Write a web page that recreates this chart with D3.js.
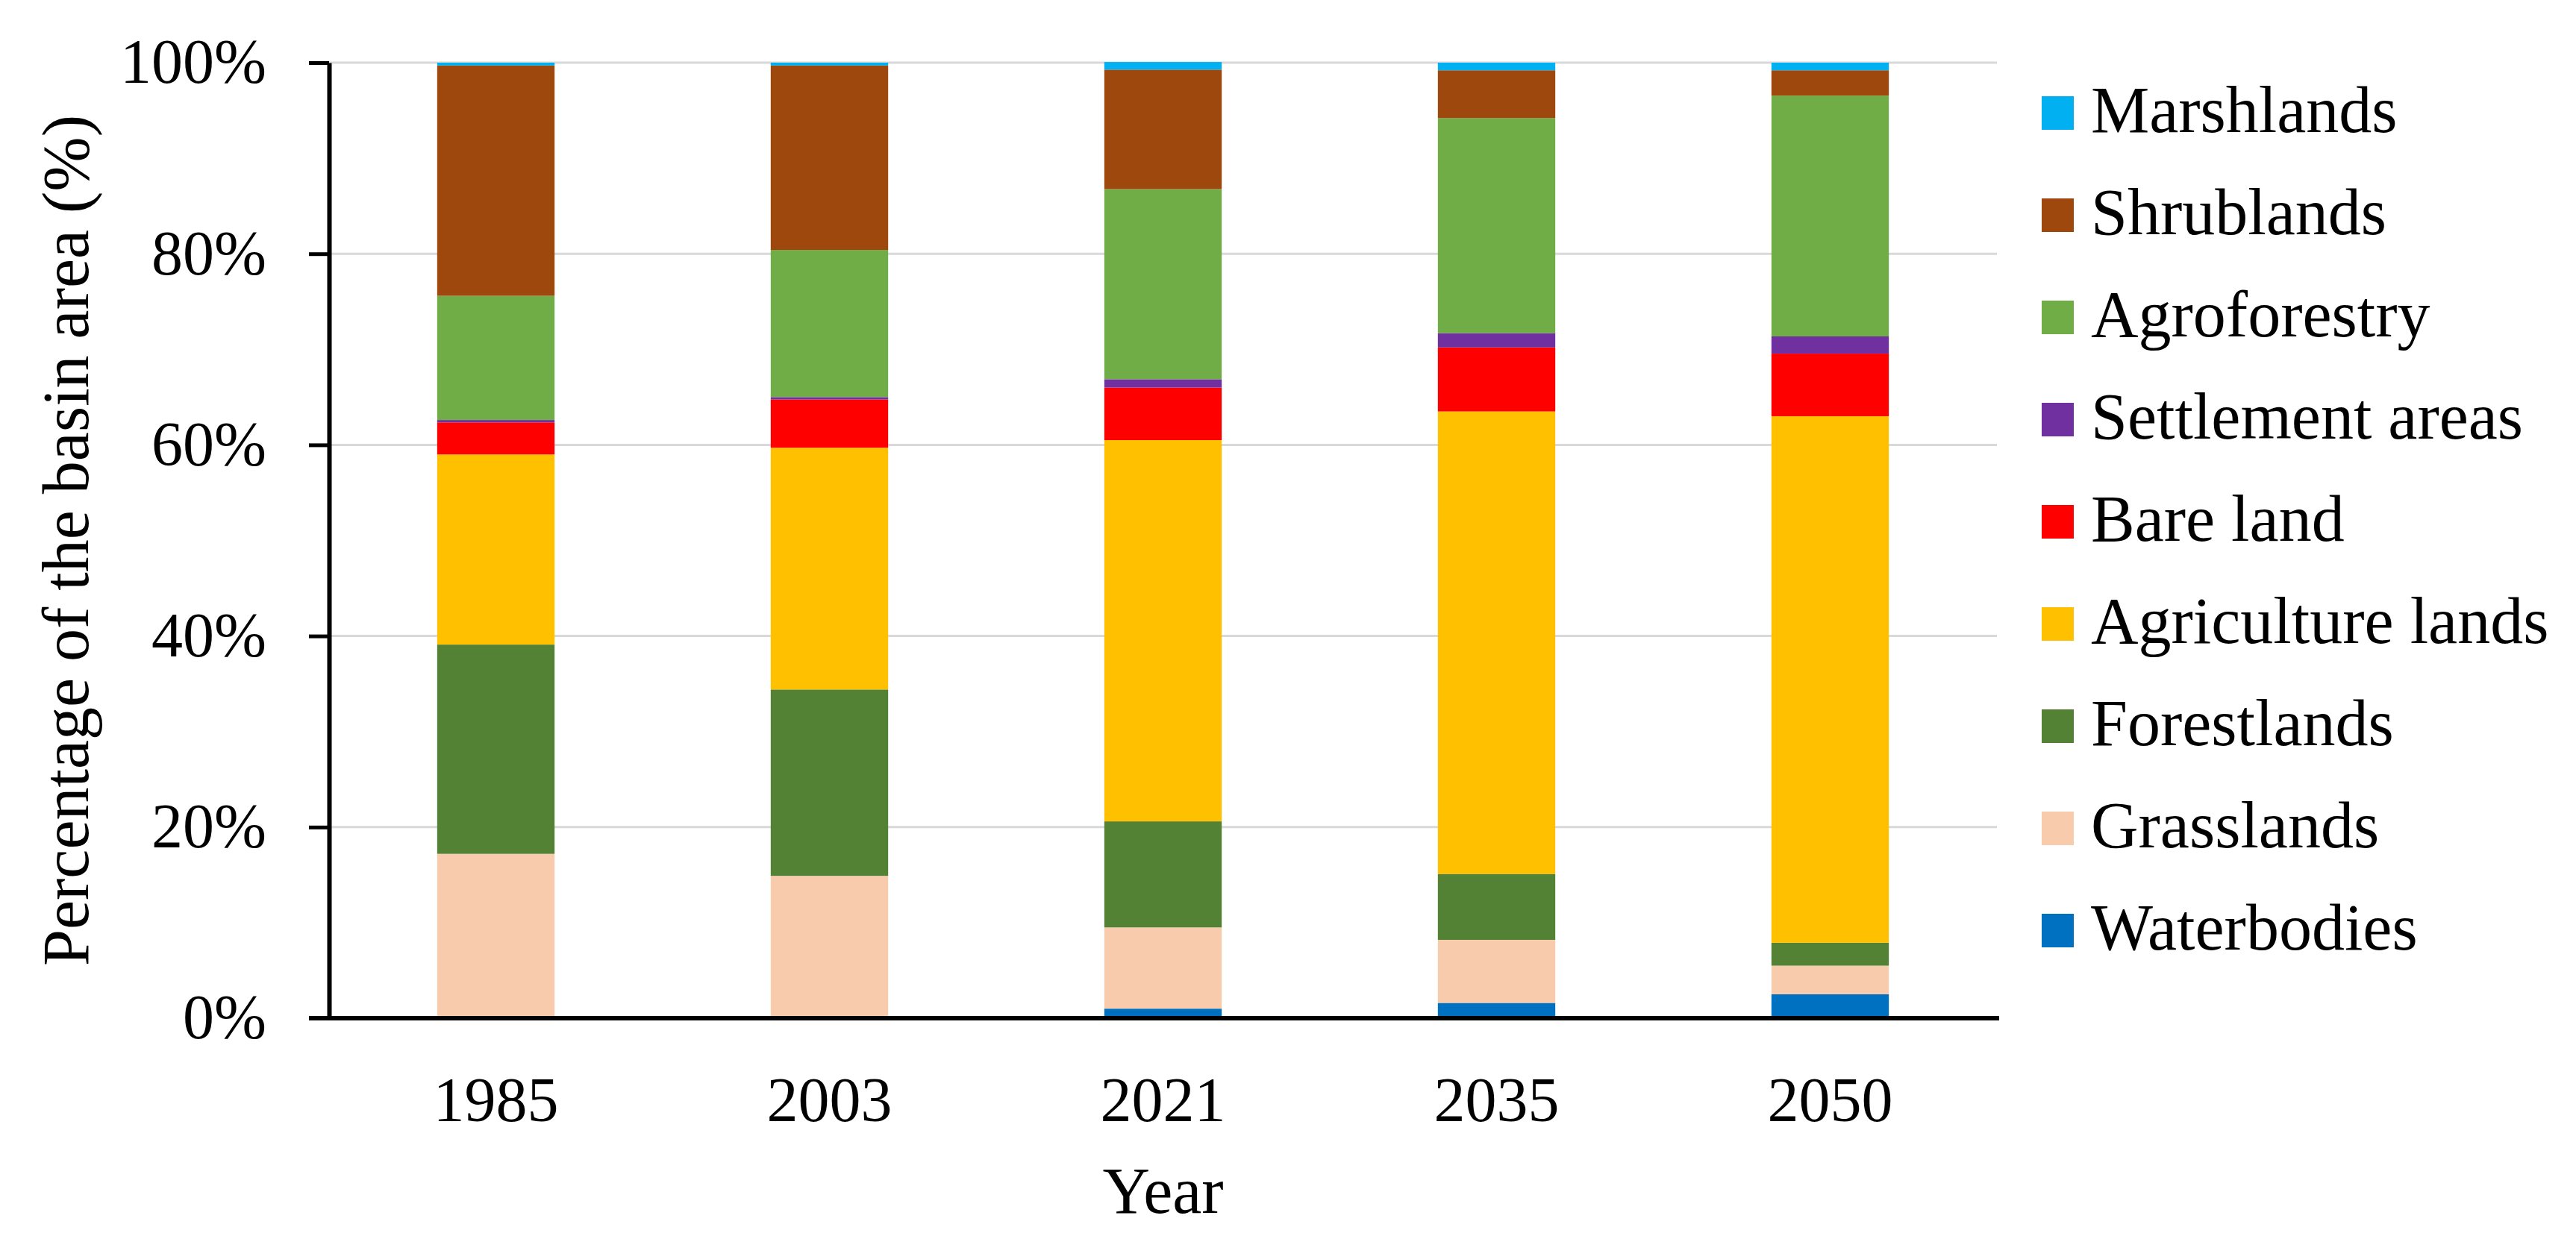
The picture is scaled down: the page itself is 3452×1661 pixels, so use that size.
<!DOCTYPE html>
<html>
<head>
<meta charset="utf-8">
<script src="https://cdn.jsdelivr.net/npm/d3@7"></script>
<style>
  body { margin: 0; background: #fff; }
</style>
</head>
<body>
<div id="chart-area"></div>
<script>
// data (percent of basin area)
const years = ["1985", "2003", "2021", "2035", "2050"];
const categories = ["Waterbodies", "Grasslands", "Forestlands", "Agriculture lands",
  "Bare land", "Settlement areas", "Agroforestry", "Shrublands", "Marshlands"];
const colors = ["#0070C0", "#F8CBAD", "#548235", "#FFC000",
  "#FF0000", "#7030A0", "#70AD47", "#9E480E", "#00B0F0"];

const waterbodies = [0.0, 0.0, 1.0, 1.6, 2.5];
const grasslands = [17.2, 14.9, 8.5, 6.6, 3.0];
const forestlands = [21.9, 19.5, 11.1, 6.9, 2.4];
const agricultureLands = [19.9, 25.3, 39.9, 48.4, 55.1];
const bareLand = [3.35, 5.05, 5.5, 6.7, 6.55];
const settlementAreas = [0.25, 0.25, 0.87, 1.5, 1.8];
const agroforestry = [13.0, 15.4, 19.9, 22.5, 25.2];
const shrublands = [24.1, 19.3, 12.5, 5.0, 2.65];
const marshlands = [0.3, 0.3, 0.8, 0.8, 0.8];

const yTicks = [0, 20, 40, 60, 80, 100];

const series = [waterbodies, grasslands, forestlands, agricultureLands, bareLand,
  settlementAreas, agroforestry, shrublands, marshlands];

const rows = years.map((yr, i) => {
  const r = {year: yr};
  categories.forEach((c, j) => r[c] = series[j][i]);
  return r;
});

const svgWidth = 3452, svgHeight = 1661;
const margins = {top: 84, bottom: 296, left: 441, right: 776};
const font = "'Liberation Serif', 'Times New Roman', serif";

const canvas = d3.select("#chart-area")
  .append("svg")
    .attr("width", svgWidth)
    .attr("height", svgHeight);

const x = d3.scaleBand()
  .domain(years)
  .range([margins.left, svgWidth - margins.right])
  .padding(0);
const barWidth = x.bandwidth() * 0.352;

const y = d3.scaleLinear()
  .domain([0, 100])
  .range([svgHeight - margins.bottom, margins.top]);

// gridlines
canvas.append("g")
  .selectAll("line")
  .data(yTicks.filter(d => d > 0))
  .join("line")
    .attr("x1", margins.left)
    .attr("x2", svgWidth - margins.right)
    .attr("y1", d => y(d))
    .attr("y2", d => y(d))
    .attr("stroke", "#d9d9d9")
    .attr("stroke-width", 3);

// stacked bars
const stacked = d3.stack().keys(categories)(rows);
canvas.append("g")
  .selectAll("g")
  .data(stacked)
  .join("g")
    .attr("fill", (d, i) => colors[i])
  .selectAll("rect")
  .data(d => d)
  .join("rect")
    .attr("x", d => x(d.data.year) + x.bandwidth() / 2 - barWidth / 2)
    .attr("width", barWidth)
    .attr("y", d => y(d[1]))
    .attr("height", d => y(d[0]) - y(d[1]));

// y axis
const yAxisCall = d3.axisLeft(y)
  .tickValues(yTicks)
  .tickFormat(d => d + "%")
  .tickSizeInner(27)
  .tickSizeOuter(0)
  .tickPadding(57);
const yAxis = canvas.append("g")
  .attr("transform", `translate(${margins.left},0)`)
  .call(yAxisCall);
yAxis.select(".domain")
  .attr("stroke", "#000")
  .attr("stroke-width", 6);
yAxis.selectAll("line")
  .attr("stroke", "#000")
  .attr("stroke-width", 5);
yAxis.selectAll("text")
  .attr("font-family", font)
  .attr("font-size", 84)
  .attr("fill", "#000");

// x axis
const xAxisCall = d3.axisBottom(x)
  .tickSize(0)
  .tickPadding(80);
const xAxis = canvas.append("g")
  .attr("transform", `translate(0,${y(0)})`)
  .call(xAxisCall);
xAxis.select(".domain")
  .attr("d", `M${margins.left - 27},0H${svgWidth - margins.right + 3}`)
  .attr("stroke", "#000")
  .attr("stroke-width", 6);
xAxis.selectAll("text")
  .attr("font-family", font)
  .attr("font-size", 84)
  .attr("fill", "#000")
  .attr("dy", 0)
  .attr("y", 138);

// axis titles
canvas.append("text")
  .text("Year")
  .attr("x", (margins.left + svgWidth - margins.right) / 2)
  .attr("y", 1626)
  .attr("text-anchor", "middle")
  .attr("font-family", font)
  .attr("font-size", 88);

canvas.append("text")
  .text("Percentage of the basin area (%)")
  .attr("transform", `translate(118,${(y(0) + y(100)) / 2}) rotate(-90)`)
  .attr("text-anchor", "middle")
  .attr("font-family", font)
  .attr("font-size", 88);

// legend, top entry is the top of the stack
const legendItems = categories.map((c, i) => ({name: c, color: colors[i]})).reverse();
const legend = canvas.append("g")
  .selectAll("g")
  .data(legendItems)
  .join("g")
    .attr("transform", (d, i) => `translate(2736,${151 + i * 137})`);
legend.append("rect")
  .attr("x", 0)
  .attr("y", -22)
  .attr("width", 43)
  .attr("height", 45)
  .attr("fill", d => d.color);
legend.append("text")
  .text(d => d.name)
  .attr("x", 66)
  .attr("y", 0)
  .attr("dy", "0.3em")
  .attr("font-family", font)
  .attr("font-size", 88);
</script>
</body>
</html>
